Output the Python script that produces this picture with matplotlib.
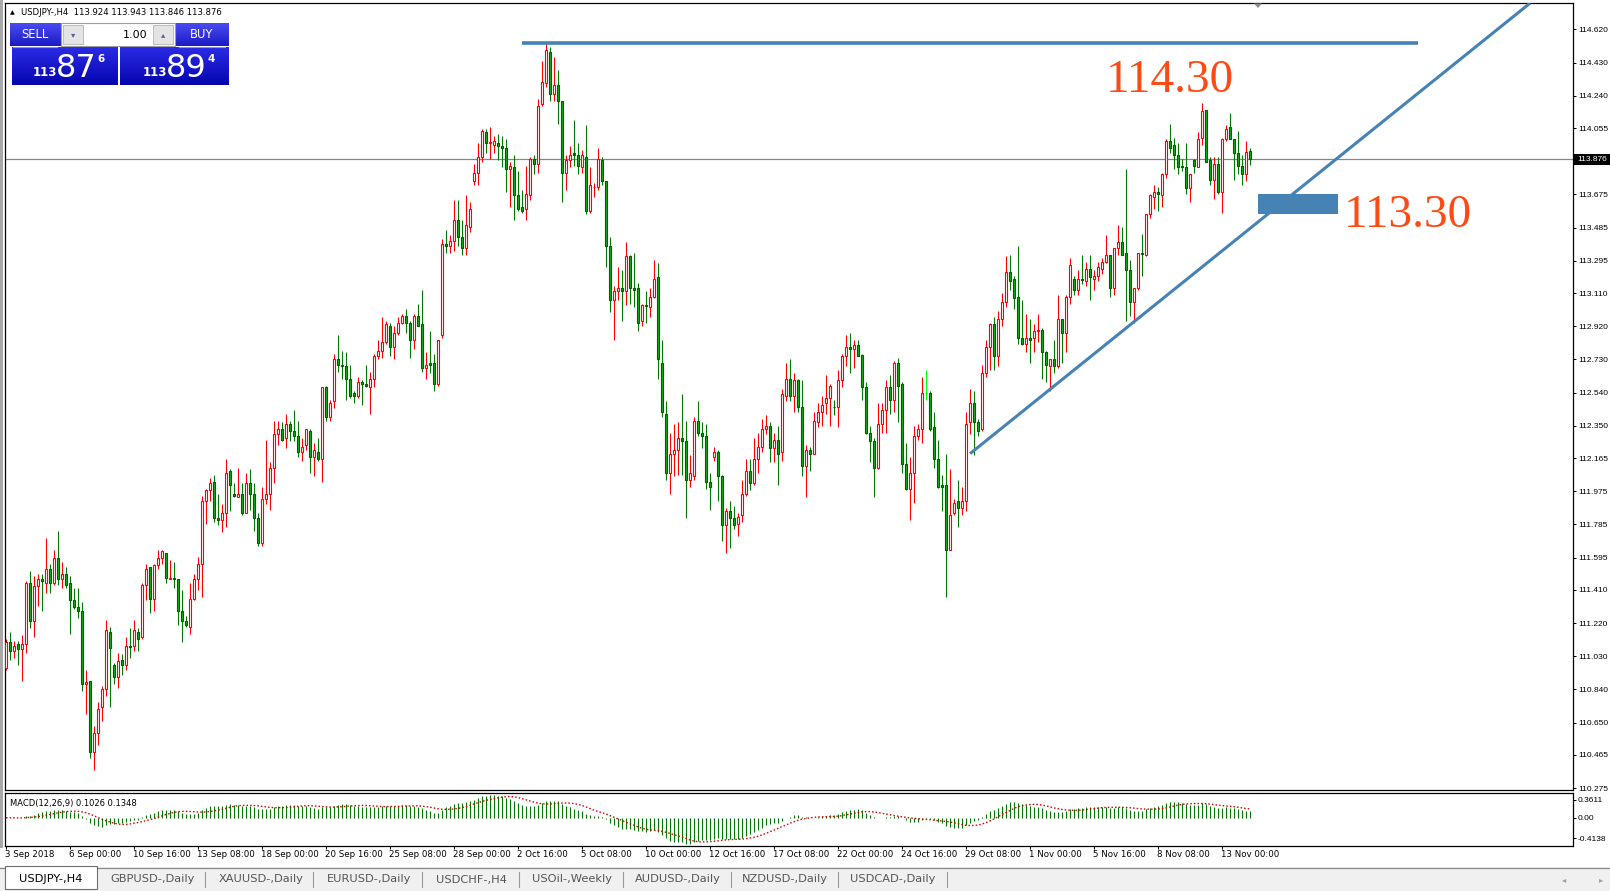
import numpy as np
import pandas as pd
import matplotlib
matplotlib.use("Agg")
import matplotlib.pyplot as plt
from matplotlib.patches import Rectangle, Polygon
from matplotlib.transforms import blended_transform_factory
from matplotlib.colors import to_rgb

W, H = 1610, 891

# ---------------- data (USDJPY-, H4) ----------------
opens = [
    110.96, 111.11, 111.06, 111.10, 111.07, 111.10, 111.45, 111.23, 111.43, 111.47,
    111.45, 111.53, 111.45, 111.59, 111.47, 111.50, 111.45, 111.35, 111.31, 111.29,
    110.87, 110.89, 110.48, 110.59, 110.74, 110.84, 111.17, 110.98, 110.91, 111.01,
    110.98, 111.09, 111.09, 111.17, 111.14, 111.44, 111.54, 111.36, 111.55, 111.59,
    111.62, 111.47, 111.48, 111.47, 111.29, 111.23, 111.20, 111.36, 111.47, 111.56,
    111.92, 111.98, 112.03, 111.82, 111.81, 111.85, 112.09, 111.96, 111.94, 111.96,
    111.85, 112.02, 111.96, 111.82, 111.68, 111.93, 111.96, 112.11, 112.30, 112.33,
    112.28, 112.36, 112.32, 112.29, 112.20, 112.24, 112.32, 112.17, 112.20, 112.16,
    112.57, 112.40, 112.49, 112.73, 112.70, 112.69, 112.62, 112.54, 112.52, 112.60,
    112.59, 112.57, 112.62, 112.75, 112.78, 112.83, 112.92, 112.80, 112.88, 112.94,
    112.98, 112.94, 112.84, 112.98, 112.93, 112.68, 112.71, 112.71, 112.59, 112.87,
    113.39, 113.38, 113.41, 113.53, 113.43, 113.37, 113.49, 113.75, 113.80, 113.89,
    114.03, 113.97, 113.96, 113.97, 113.95, 113.94, 113.82, 113.83, 113.67, 113.60,
    113.59, 113.67, 113.88, 113.85, 114.19, 114.31, 114.49, 114.25, 114.30, 114.21,
    113.80, 113.87, 113.91, 113.90, 113.83, 113.89, 113.58, 113.715, 113.72, 113.87,
    113.75, 113.38, 113.07, 113.12, 113.14, 113.12, 113.32, 113.14, 113.14, 112.95,
    113.04, 113.03, 113.09, 113.20, 112.71, 112.42, 112.08, 112.19, 112.21, 112.28,
    112.26, 112.04, 112.06, 112.38, 112.31, 112.29, 112.03, 112.17, 112.20, 112.06,
    111.78, 111.86, 111.82, 111.79, 111.84, 111.96, 112.09, 112.02, 112.16, 112.23,
    112.33, 112.35, 112.22, 112.27, 112.20, 112.52, 112.62, 112.52, 112.61, 112.46,
    112.12, 112.21, 112.19, 112.37, 112.43, 112.48, 112.51, 112.46, 112.46, 112.61,
    112.75, 112.80, 112.79, 112.81, 112.755, 112.57, 112.31, 112.26, 112.11, 112.36,
    112.44, 112.57, 112.50, 112.71, 112.59, 112.13, 111.99, 112.08, 112.29, 112.33,
    112.54, 112.54, 112.34, 112.16, 112.01, 112.01, 111.64, 111.85, 111.92, 111.88,
    111.92, 112.37, 112.48, 112.37, 112.33, 112.65, 112.80, 112.93, 112.75, 112.96,
    113.06, 113.23, 113.19, 113.09, 112.85, 112.82, 112.85, 112.85, 112.89, 112.90,
    112.77, 112.69, 112.73, 112.69, 112.96, 112.88, 113.09, 113.19, 113.13, 113.19,
    113.18, 113.25, 113.19, 113.21, 113.25, 113.29, 113.33, 113.14, 113.37, 113.40,
    113.34, 113.24, 113.06, 113.14, 113.34, 113.33, 113.56, 113.66, 113.69, 113.67,
    113.79, 113.98, 113.96, 113.90, 113.84, 113.83, 113.71, 113.87, 113.83, 114.00,
    114.16, 113.87, 113.76, 113.85, 113.69, 113.99, 114.06, 113.99, 113.91, 113.84,
    113.79, 113.924,
]
highs = [
    111.13, 111.17, 111.12, 111.12, 111.15, 111.46, 111.52, 111.49, 111.50, 111.50,
    111.71, 111.56, 111.64, 111.75, 111.57, 111.54, 111.49, 111.42, 111.42, 111.34,
    110.95, 110.89, 110.63, 110.77, 110.86, 111.24, 111.20, 110.99, 111.05, 111.04,
    111.14, 111.19, 111.24, 111.19, 111.45, 111.56, 111.54, 111.56, 111.64, 111.64,
    111.62, 111.58, 111.57, 111.47, 111.41, 111.26, 111.45, 111.50, 111.60, 111.95,
    111.99, 112.05, 112.07, 111.96, 111.90, 112.16, 112.10, 112.02, 112.11, 112.02,
    112.08, 112.10, 112.02, 111.85, 112.00, 112.27, 112.14, 112.38, 112.38, 112.37,
    112.42, 112.38, 112.44, 112.38, 112.28, 112.33, 112.33, 112.25, 112.28, 112.57,
    112.58, 112.50, 112.76, 112.87, 112.78, 112.77, 112.70, 112.55, 112.63, 112.61,
    112.70, 112.66, 112.76, 112.84, 112.97, 112.95, 112.94, 112.92, 112.97, 112.99,
    113.02, 112.95, 112.99, 113.05, 113.13, 112.77, 112.89, 112.76, 112.84, 113.42,
    113.47, 113.44, 113.64, 113.64, 113.53, 113.67, 113.63, 113.85, 113.97, 114.05,
    114.05, 114.06, 114.01, 114.02, 114.01, 113.99, 113.86, 113.90, 113.81, 113.70,
    113.84, 113.89, 113.90, 114.22, 114.44, 114.54, 114.52, 114.46, 114.39, 114.21,
    113.90, 113.95, 114.10, 113.97, 113.93, 114.07, 113.83, 113.74, 113.94, 113.89,
    113.75, 113.43, 113.15, 113.26, 113.24, 113.40, 113.33, 113.34, 113.17, 113.05,
    113.12, 113.14, 113.30, 113.28, 112.84, 112.49, 112.31, 112.36, 112.37, 112.53,
    112.38, 112.18, 112.40, 112.49, 112.37, 112.36, 112.08, 112.23, 112.21, 112.07,
    111.88, 111.92, 111.89, 111.85, 112.04, 112.16, 112.16, 112.28, 112.31, 112.39,
    112.41, 112.37, 112.31, 112.35, 112.56, 112.71, 112.73, 112.65, 112.62, 112.61,
    112.24, 112.23, 112.43, 112.48, 112.52, 112.64, 112.59, 112.50, 112.67, 112.76,
    112.87, 112.88, 112.84, 112.84, 112.76, 112.60, 112.35, 112.28, 112.48, 112.48,
    112.61, 112.64, 112.72, 112.74, 112.60, 112.25, 112.17, 112.35, 112.36, 112.63,
    112.67, 112.55, 112.43, 112.27, 112.07, 112.19, 112.10, 111.93, 112.04, 112.00,
    112.43, 112.56, 112.55, 112.39, 112.70, 112.84, 112.94, 112.97, 113.01, 113.11,
    113.32, 113.33, 113.21, 113.38, 113.07, 112.99, 112.96, 112.93, 112.99, 112.91,
    112.78, 112.73, 112.84, 113.10, 112.96, 113.10, 113.31, 113.21, 113.24, 113.33,
    113.29, 113.33, 113.24, 113.29, 113.31, 113.44, 113.33, 113.37, 113.50, 113.49,
    113.82, 113.30, 113.14, 113.34, 113.45, 113.56, 113.68, 113.73, 113.72, 113.80,
    113.99, 114.08, 114.00, 113.97, 113.88, 113.97, 113.79, 113.88, 114.03, 114.20,
    114.16, 113.89, 113.89, 113.89, 114.00, 114.07, 114.14, 113.99, 114.04, 113.90,
    113.98, 113.943,
]
lows = [
    110.95, 111.01, 111.02, 110.98, 110.89, 111.05, 111.19, 111.14, 111.32, 111.29,
    111.39, 111.39, 111.44, 111.44, 111.42, 111.42, 111.16, 111.30, 111.25, 110.83,
    110.70, 110.45, 110.38, 110.52, 110.66, 110.80, 110.74, 110.87, 110.85, 110.92,
    110.95, 111.02, 111.06, 111.06, 111.13, 111.35, 111.28, 111.29, 111.53, 111.56,
    111.45, 111.47, 111.42, 111.21, 111.11, 111.20, 111.16, 111.35, 111.41, 111.37,
    111.79, 111.92, 111.80, 111.78, 111.74, 111.77, 111.86, 111.94, 111.94, 111.84,
    111.85, 111.87, 111.75, 111.66, 111.66, 111.90, 111.87, 112.02, 112.24, 112.26,
    112.22, 112.26, 112.26, 112.17, 112.15, 112.21, 112.08, 112.06, 112.15, 112.03,
    112.38, 112.38, 112.45, 112.66, 112.62, 112.50, 112.51, 112.48, 112.51, 112.47,
    112.57, 112.42, 112.57, 112.73, 112.74, 112.82, 112.75, 112.73, 112.87, 112.93,
    112.88, 112.74, 112.79, 112.92, 112.66, 112.62, 112.65, 112.55, 112.58, 112.85,
    113.34, 113.34, 113.35, 113.38, 113.33, 113.33, 113.46, 113.73, 113.73, 113.86,
    113.91, 113.88, 113.91, 113.87, 113.83, 113.69, 113.60, 113.53, 113.58, 113.57,
    113.53, 113.64, 113.79, 113.80, 114.18, 114.29, 114.21, 114.21, 114.08, 113.63,
    113.70, 113.83, 113.84, 113.79, 113.80, 113.56, 113.57, 113.66, 113.70, 113.73,
    113.26, 113.00, 112.84, 113.07, 112.95, 113.04, 113.05, 113.03, 112.89, 112.92,
    112.94, 112.97, 113.08, 112.62, 112.40, 112.04, 111.96, 112.06, 112.07, 112.07,
    111.82, 112.00, 112.04, 112.29, 112.22, 111.99, 111.87, 112.15, 111.92, 111.69,
    111.62, 111.65, 111.76, 111.72, 111.80, 111.95, 111.98, 112.01, 112.08, 112.20,
    112.30, 112.14, 112.14, 112.01, 112.15, 112.49, 112.49, 112.43, 112.43, 112.06,
    111.94, 112.09, 112.19, 112.34, 112.35, 112.42, 112.35, 112.41, 112.34, 112.57,
    112.69, 112.65, 112.68, 112.75, 112.50, 112.30, 112.14, 111.94, 112.10, 112.31,
    112.31, 112.42, 112.43, 112.37, 112.08, 111.98, 111.81, 111.91, 112.27, 112.25,
    112.50, 112.32, 112.11, 111.995, 111.86, 111.37, 111.64, 111.84, 111.77, 111.84,
    111.86, 112.30, 112.18, 112.29, 112.32, 112.63, 112.67, 112.67, 112.69, 112.92,
    113.03, 113.13, 113.02, 112.82, 112.81, 112.77, 112.71, 112.77, 112.83, 112.62,
    112.60, 112.55, 112.65, 112.68, 112.71, 112.77, 113.05, 113.10, 113.10, 113.16,
    113.15, 113.07, 113.13, 113.18, 113.22, 113.28, 113.09, 113.10, 113.33, 113.33,
    112.95, 112.98, 112.94, 113.13, 113.21, 113.32, 113.54, 113.59, 113.58, 113.60,
    113.77, 113.91, 113.82, 113.79, 113.81, 113.68, 113.63, 113.80, 113.83, 113.96,
    113.86, 113.73, 113.65, 113.68, 113.57, 113.98, 113.99, 113.76, 113.79, 113.73,
    113.75, 113.846,
]
closes = [
    111.11, 111.06, 111.09, 111.07, 111.10, 111.45, 111.23, 111.43, 111.47, 111.46,
    111.53, 111.45, 111.59, 111.47, 111.50, 111.44, 111.35, 111.31, 111.29, 110.87,
    110.88, 110.48, 110.59, 110.73, 110.84, 111.18, 111.08, 110.91, 111.00, 110.98,
    111.09, 111.085, 111.18, 111.13, 111.44, 111.53, 111.36, 111.55, 111.59, 111.63,
    111.48, 111.48, 111.47, 111.29, 111.23, 111.21, 111.36, 111.47, 111.56, 111.92,
    111.98, 112.02, 111.82, 111.81, 111.85, 112.08, 112.01, 111.95, 111.96, 111.85,
    112.02, 111.96, 111.82, 111.68, 111.93, 111.96, 112.11, 112.30, 112.33, 112.27,
    112.36, 112.32, 112.29, 112.20, 112.23, 112.33, 112.17, 112.21, 112.16, 112.57,
    112.40, 112.48, 112.73, 112.70, 112.69, 112.62, 112.52, 112.52, 112.60, 112.59,
    112.58, 112.62, 112.75, 112.78, 112.83, 112.93, 112.80, 112.88, 112.94, 112.98,
    112.94, 112.84, 112.98, 112.92, 112.68, 112.70, 112.70, 112.59, 112.84, 113.39,
    113.38, 113.41, 113.53, 113.43, 113.37, 113.50, 113.59, 113.80, 113.89, 114.04,
    113.97, 113.975, 113.98, 113.95, 113.94, 113.82, 113.84, 113.67, 113.59, 113.58,
    113.68, 113.88, 113.85, 114.18, 114.32, 114.50, 114.25, 114.30, 114.21, 113.80,
    113.87, 113.90, 113.90, 113.84, 113.90, 113.58, 113.73, 113.72, 113.88, 113.75,
    113.38, 113.07, 113.12, 113.14, 113.12, 113.32, 113.14, 113.13, 112.94, 113.04,
    113.035, 113.09, 113.19, 112.73, 112.43, 112.08, 112.19, 112.21, 112.28, 112.26,
    112.04, 112.08, 112.38, 112.31, 112.29, 112.03, 112.00, 112.20, 112.06, 111.78,
    111.86, 111.82, 111.78, 111.83, 111.96, 112.09, 112.02, 112.16, 112.23, 112.33,
    112.35, 112.22, 112.27, 112.19, 112.53, 112.62, 112.52, 112.61, 112.46, 112.12,
    112.21, 112.19, 112.38, 112.43, 112.47, 112.51, 112.58, 112.455, 112.61, 112.75,
    112.80, 112.79, 112.81, 112.75, 112.57, 112.31, 112.26, 112.11, 112.36, 112.44,
    112.57, 112.50, 112.71, 112.58, 112.13, 111.99, 112.08, 112.29, 112.33, 112.54,
    112.54, 112.33, 112.16, 112.00, 112.00, 111.64, 111.84, 111.91, 111.88, 111.92,
    112.36, 112.48, 112.37, 112.32, 112.65, 112.80, 112.93, 112.75, 112.96, 113.06,
    113.23, 113.18, 113.08, 112.85, 112.82, 112.85, 112.84, 112.89, 112.90, 112.77,
    112.70, 112.73, 112.69, 112.96, 112.88, 113.09, 113.27, 113.13, 113.19, 113.185,
    113.25, 113.20, 113.21, 113.26, 113.29, 113.33, 113.14, 113.37, 113.40, 113.33,
    113.24, 113.06, 113.14, 113.34, 113.335, 113.56, 113.67, 113.69, 113.675, 113.79,
    113.98, 113.94, 113.90, 113.83, 113.83, 113.71, 113.79, 113.84, 113.99, 114.15,
    113.86, 113.76, 113.85, 113.69, 113.99, 114.05, 113.99, 113.91, 113.84, 113.79,
    113.92, 113.876,
]

date_labels = ["3 Sep 2018", "6 Sep 00:00", "10 Sep 16:00", "13 Sep 08:00", "18 Sep 00:00",
               "20 Sep 16:00", "25 Sep 08:00", "28 Sep 00:00", "2 Oct 16:00", "5 Oct 08:00",
               "10 Oct 00:00", "12 Oct 16:00", "17 Oct 08:00", "22 Oct 00:00", "24 Oct 16:00",
               "29 Oct 08:00", "1 Nov 00:00", "5 Nov 16:00", "8 Nov 08:00", "13 Nov 00:00"]
bars_per_label = 16

price_ticks = [114.620, 114.430, 114.240, 114.055, 113.675, 113.485, 113.295, 113.110,
               112.920, 112.730, 112.540, 112.350, 112.165, 111.975, 111.785, 111.595,
               111.410, 111.220, 111.030, 110.840, 110.650, 110.465, 110.275]
current_price = 113.876
header_text = "USDJPY-,H4  113.924 113.943 113.846 113.876"

resistance_price = 114.54
resistance_bars = (129, 353)
trend_bars = (241.0, 381.0)
trend_prices = (112.19, 114.77)
zone_bars = (313, 333)
zone_prices = (113.56, 113.675)
note_high = ("114.30", 275, 114.26)
note_low = ("113.30", 334.5, 113.49)

macd_text = "MACD(12,26,9) 0.1026 0.1348"
macd_range = (-0.4138, 0.3611)
macd_tick_labels = ["0.3611", "0.00", "-0.4138"]

tabs = ["USDJPY-,H4", "GBPUSD-,Daily", "XAUUSD-,Daily", "EURUSD-,Daily", "USDCHF-,H4",
        "USOil-,Weekly", "AUDUSD-,Daily", "NZDUSD-,Daily", "USDCAD-,Daily"]

sell_price = ("113", "87", "6")
buy_price = ("113", "89", "4")
lot_size = "1.00"

# ---------------- derived ----------------
o = np.array(opens); h = np.array(highs); l = np.array(lows); c = np.array(closes)
n = len(c)
x = np.arange(n)
cs = pd.Series(c)
macd = (cs.ewm(span=12, adjust=False).mean() - cs.ewm(span=26, adjust=False).mean()).values
signal = pd.Series(macd).rolling(9, min_periods=1).mean().values

RED = "#FF0000"
GDARK = "#007A00"
GFILL = "#12B012"
GEDGE = "#005C00"
BLUE = "#4682B4"
ORANGE = "#FF4A14"
TICKFONT = dict(family="Liberation Sans", size=6.0)

fig = plt.figure(figsize=(W / 100, H / 100), dpi=100, facecolor="white")


def px_axes(x0, y0, x1, y1, **kw):
    return fig.add_axes([x0 / W, 1 - y1 / H, (x1 - x0) / W, (y1 - y0) / H], **kw)


# ---------------- main price axes ----------------
ax = px_axes(5, 3, 1573, 790)
ax.set_facecolor("white")
ax.set_xlim(-0.25, 391.75)
ax.set_ylim(110.264, 114.771)

up = c > o
down = c < o
wick_cols = np.where(up, RED, np.where(down, GDARK, "#00FF00"))
ax.vlines(x, l, h, colors=wick_cols, lw=0.8, zorder=2)
body_bot = np.minimum(o, c)
body_h = np.abs(c - o)
fills = np.where(up, "white", np.where(down, GFILL, "#00FF00"))
edges = np.where(up, RED, np.where(down, GEDGE, "#00FF00"))
ax.bar(x, body_h, bottom=body_bot, width=0.55, color=fills, edgecolor=edges,
       linewidth=0.8, zorder=3)

ax.axhline(current_price, color="#7A8899", lw=0.9, zorder=1)
ax.hlines(resistance_price, resistance_bars[0], resistance_bars[1], color=BLUE, lw=2.6, zorder=4)
ax.plot(trend_bars, trend_prices, color=BLUE, lw=2.2, zorder=4, solid_capstyle="butt")
ax.add_patch(Rectangle((zone_bars[0], zone_prices[0]), zone_bars[1] - zone_bars[0],
                       zone_prices[1] - zone_prices[0], facecolor=BLUE, edgecolor="none", zorder=4))
for txt, xb, yp in (note_high, note_low):
    ax.text(xb, yp, txt, color=ORANGE, fontsize=34, family="Liberation Serif",
            ha="left", va="baseline", zorder=5)

ax.yaxis.tick_right()
ax.set_yticks(price_ticks)
ax.set_yticklabels([f"{v:.3f}" for v in price_ticks], fontdict=TICKFONT)
ax.tick_params(axis="y", direction="out", length=2.5, width=0.7, pad=1.1, colors="black")
ax.set_xticks([])
for s in ax.spines.values():
    s.set_color("black"); s.set_linewidth(0.9)

# ---------------- MACD axes ----------------
am = px_axes(5, 793, 1573, 846)
am.set_xlim(-0.25, 391.75)
am.set_ylim(*macd_range)
am.vlines(x, 0, macd, colors="#007A00", lw=0.8)
am.plot(x, signal, color="#E00000", lw=1.0, ls=(0, (1.1, 1.5)))
am.yaxis.tick_right()
# scale labels sit just inside the window's top / bottom edge, as in the terminal
span = macd_range[1] - macd_range[0]
inset = 7.0 / 53.0 * span
am.set_yticks([macd_range[1] - inset, 0.0, macd_range[0] + inset * 1.1])
am.set_yticklabels(macd_tick_labels, fontdict=TICKFONT)
am.tick_params(axis="y", direction="out", length=2.5, width=0.7, pad=1.1, colors="black")
label_pos = [k * bars_per_label for k in range(len(date_labels))]
am.set_xticks(label_pos)
am.set_xticklabels([])
am.tick_params(axis="x", direction="out", length=2.2, width=0.7)
trans = blended_transform_factory(am.transData, am.transAxes)
for pos, lab in zip(label_pos, date_labels):
    am.text(pos - 0.3, -0.16, lab, transform=trans, ha="left", va="center",
            fontsize=6.2, family="DejaVu Sans")
am.text(0.0035, 0.80, macd_text, transform=am.transAxes, ha="left", va="center",
        fontsize=6.0, family="DejaVu Sans", zorder=6)
for s in am.spines.values():
    s.set_color("black"); s.set_linewidth(0.9)

# ---------------- overlay (terminal UI pieces) ----------------
ov = fig.add_axes([0, 0, 1, 1], zorder=10)
ov.patch.set_alpha(0)
ov.axis("off")


def grad(x0, y0, x1, y1, ctop, cbot):
    t = np.array(to_rgb(ctop)); b = np.array(to_rgb(cbot))
    f = np.linspace(0, 1, 32)[:, None]
    arr = (t * (1 - f) + b * f)[:, None, :]
    ov.imshow(arr, extent=(x0, x1, y1, y0), aspect="auto", interpolation="bilinear", zorder=11)


# window frame
ov.add_patch(Rectangle((0, 0), 3, 848, facecolor="#A8A8A8", edgecolor="none", zorder=11))
ov.add_patch(Polygon([(1254, 3.5), (1262, 3.5), (1258, 8)], closed=True,
                     facecolor="#8C8C8C", edgecolor="none", zorder=11))

# header
ov.text(12, 12.5, "\u25b2", fontsize=4.5, ha="center", va="center", color="black", zorder=12)
ov.text(21, 12.5, header_text, fontsize=6.1, ha="left", va="center", color="black",
        family="DejaVu Sans", zorder=12)

# one-click trading panel
grad(10, 23, 60, 46, "#4A4AF2", "#1C1CC4")
grad(176, 23, 228, 46, "#4A4AF2", "#1C1CC4")
ov.add_patch(Rectangle((61, 23), 114, 23, facecolor="white", edgecolor="#9C9C9C", lw=0.8, zorder=12))
for bx in (63, 153):
    ov.add_patch(Rectangle((bx, 25), 20, 19, facecolor="#E4E4E4", edgecolor="#B4B4B4", lw=0.6, zorder=13))
ov.text(73, 34.5, "\u25be", fontsize=6, ha="center", va="center", color="#5060A0", zorder=14)
ov.text(163, 34.5, "\u25b4", fontsize=6, ha="center", va="center", color="#5060A0", zorder=14)
ov.text(147, 34.5, lot_size, fontsize=8, ha="right", va="center", color="black", zorder=14)
ov.text(35, 34.5, "SELL", fontsize=8.3, ha="center", va="center", color="white", zorder=14)
ov.text(202, 34.5, "BUY", fontsize=8.3, ha="center", va="center", color="white", zorder=14)
ov.plot([13, 57], [46.5, 46.5], color="#8C8CFF", lw=0.8, zorder=14)
ov.plot([179, 225], [46.5, 46.5], color="#8C8CFF", lw=0.8, zorder=14)
grad(12, 47, 117, 85, "#2A2AE6", "#0606AE")
grad(120, 47, 228, 85, "#2A2AE6", "#0606AE")
for (big, mid, small), xs in ((sell_price, (33, 56, 97)), (buy_price, (143, 166, 207))):
    ov.text(xs[0], 76, big, fontsize=8.5, fontweight="bold", ha="left", va="baseline",
            color="white", zorder=14)
    ov.text(xs[1], 77, mid, fontsize=23, ha="left", va="baseline", color="white", zorder=14)
    ov.text(xs[2], 62, small, fontsize=7.5, fontweight="bold", ha="left", va="baseline",
            color="white", zorder=14)

# current price tag
ov.add_patch(Rectangle((1574, 153.5), 36, 11.5, facecolor="black", edgecolor="none", zorder=12))
ov.text(1577.8, 159.5, f"{current_price:.3f}", ha="left", va="center",
        color="white", zorder=13, **TICKFONT)

# tab bar
ov.add_patch(Rectangle((0, 867), W, 24, facecolor="#F0F0F0", edgecolor="none", zorder=11))
ov.plot([0, W], [867.5, 867.5], color="#8A8A8A", lw=0.9, zorder=12)
ov.add_patch(Rectangle((5, 866), 92, 23, facecolor="white", edgecolor="#6E6E6E", lw=0.8, zorder=12))
tab_centers = [51, 152.5, 261.5, 369.5, 471, 571.5, 677.5, 785, 893]
seps = [205, 313, 422, 519, 623, 731, 838, 947]
for k, (tc, name) in enumerate(zip(tab_centers, tabs)):
    ov.text(tc, 879.5, name, fontsize=8.2, ha="center", va="center",
            color="black" if k == 0 else "#555555", zorder=13)
for sx in seps:
    ov.plot([sx, sx], [872, 887], color="#9A9A9A", lw=0.8, zorder=13)
ov.text(1564, 879.5, "\u25c2", fontsize=6, ha="center", va="center", color="#A0A0A0", zorder=13)
ov.text(1601, 879.5, "\u25b8", fontsize=6, ha="center", va="center", color="#A0A0A0", zorder=13)

ov.set_xlim(0, W)
ov.set_ylim(H, 0)

fig.savefig("out.png", dpi=100, facecolor="white")
